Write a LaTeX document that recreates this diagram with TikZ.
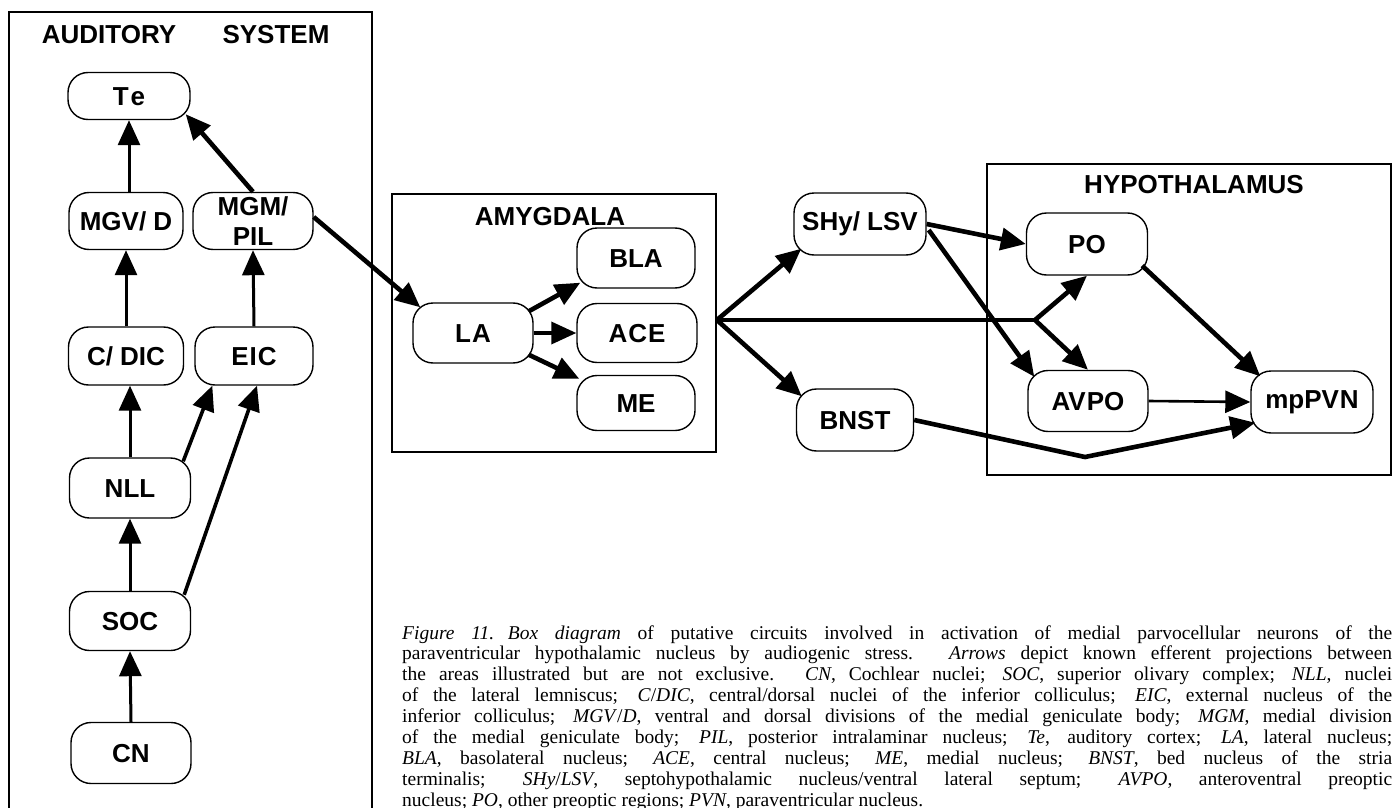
\documentclass[tikz,border=0pt]{standalone}
\usepackage{fontspec}
\setmainfont{Liberation Serif}
\setsansfont{Liberation Sans}
\usetikzlibrary{arrows.meta,calc}
\newcommand\lab{\fontsize{26}{26}\selectfont\sffamily\bfseries}
\newcommand\capsize{\fontsize{19.5}{20.9}\selectfont}
\begin{document}
\begin{tikzpicture}[x=1pt,y=-1pt,
  nbox/.style={draw, line width=1.4pt, rounded corners=20pt, inner sep=0pt, font=\lab},
  capbox/.style={nbox, text height=18.5pt, text depth=0pt},
  region/.style={draw, line width=1.8pt},
  title/.style={font=\lab, inner sep=0pt},
  arr/.style={-{Triangle[length=25pt,width=22pt]}, line width=3pt},
  heavy/.style={arr, line width=4.6pt},
  medium/.style={arr, line width=3.6pt},
  plain/.style={line width=3.6pt},
  capline/.style={anchor=base west, inner sep=0pt, font=\capsize}
]
\useasboundingbox (0,0) rectangle (1398,808);

% ---------- auditory system ----------
\draw[region] (9,830) |- (372,12) -- (372,830);
\node[title] (t1) at (109,35) {AUDITORY};
\node[title] (t2) at (276,35) {SYSTEM};

\node[capbox, minimum width=122pt, minimum height=47pt] (te)   at (129,96)  {T\kern2pt e};
\node[capbox, minimum width=114pt, minimum height=57pt] (mgv)  at (126,221) {MGV/ D};
\node[nbox, minimum width=120pt, minimum height=57pt, align=center] (mgm) at (253,221) {MGM/\\[4pt]PIL};
\node[capbox, minimum width=115pt, minimum height=58pt] (cdic) at (126,356) {C/ DIC};
\node[capbox, minimum width=118pt, minimum height=58pt] (eic)  at (254,356) {E\kern1pt I\kern1pt C};
\node[capbox, minimum width=121pt, minimum height=60pt] (nll)  at (130,488) {NLL};
\node[capbox, minimum width=121pt, minimum height=59pt] (soc)  at (130,621) {SOC};
\node[capbox, minimum width=120pt, minimum height=61pt] (cn)   at (131,753) {CN};

\draw[arr] (cn.north) -- (soc.south);
\draw[arr] (soc.north) -- (nll.south);
\draw[arr] (nll.north) -- (nll.north |- cdic.south);
\draw[arr] (cdic.north) -- (mgv.south);
\draw[arr] (te.south |- mgv.north) -- (te.south);
\draw[arr] (eic.north) -- (mgm.south);
\draw[medium] ([xshift=-8pt,yshift=-4pt]nll.north east) -- ([xshift=18pt]eic.south west);
\draw[medium] ([xshift=-7pt,yshift=-4pt]soc.north east) -- ([xshift=3pt]eic.south);
\draw[heavy] (mgm.north) -- ([xshift=-5pt,yshift=6pt]te.south east);

% ---------- amygdala ----------
\node[region, minimum width=324pt, minimum height=258pt, inner sep=0pt] (amy) at (554,323) {};
\node[title] (t3) at (550,217) {AMYGDALA};
\node[capbox, minimum width=120pt, minimum height=60pt] (la)  at (473,333) {L\kern1pt A};
\node[capbox, minimum width=118pt, minimum height=60pt] (bla) at (636,258) {BLA};
\node[capbox, minimum width=120pt, minimum height=59pt] (ace) at (637,333) {A\kern1pt C\kern1pt E};
\node[capbox, minimum width=118pt, minimum height=55pt] (me)  at (636,403) {ME};

\draw[heavy] ([yshift=4pt]mgm.east) -- ([xshift=8pt,yshift=-5pt]la.north west);
\draw[heavy] ([xshift=-5pt,yshift=-9pt]la.north east) -- ([xshift=4pt,yshift=6pt]bla.south west);
\draw[medium] (la.east) -- (ace.west);
\draw[heavy] ([xshift=-5pt,yshift=9pt]la.south east) -- ([xshift=3pt,yshift=-4pt]me.north west);

% ---------- relay nuclei ----------
\coordinate (br) at ([yshift=3pt]amy.east);
\node[nbox, minimum width=132pt, minimum height=62pt] (shy)  at (860,224) {SHy/ LSV};
\node[capbox, minimum width=117pt, minimum height=62pt] (bnst) at (855,420) {BNST};

% ---------- hypothalamus ----------
\node[region, minimum width=404pt, minimum height=311pt, inner sep=0pt] (hyp) at (1189,319.5) {};
\node[title] (t4) at (1194,185) {HYPOTHALAMUS};
\node[capbox, minimum width=121pt, minimum height=62pt] (po)    at (1087,244) {PO};
\node[capbox, minimum width=120pt, minimum height=61pt] (avpo)  at (1088,401) {AV\kern1pt PO};
\node[nbox, minimum width=122pt, minimum height=62pt] (mppvn) at (1312,402) {mpPV\kern1pt N};
\coordinate (jn) at (1035,320);
\coordinate (kink) at (1085,457);

\draw[heavy] (br) -- ([xshift=8pt,yshift=7pt]shy.south west);
\draw[heavy] (br) -- ([xshift=6pt,yshift=-8pt]bnst.north west);
\draw[plain] (br) -- (jn);
\draw[heavy] (jn) -- (po.south);
\draw[heavy] (jn) -- (avpo.north);
\draw[heavy] (shy.east) -- (po.west);
\draw[heavy] ([xshift=2pt,yshift=-6pt]shy.east) -- ([xshift=7pt,yshift=-7pt]avpo.north west);
\draw[heavy] ([xshift=-6pt,yshift=10pt]po.south east) -- ([xshift=10pt,yshift=-6pt]mppvn.north west);
\draw[arr, line width=2.6pt] (avpo.east) -- (mppvn.west);
\draw[heavy] (bnst.east) -- (kink) -- ([xshift=5pt,yshift=11pt]mppvn.south west);

% ---------- caption ----------
\node[capline] (c1) at (402,639.0) {\hbox to 990pt{\textit{Figure 11.}\hskip 0.7em\textit{Box diagram} of putative circuits involved in activation of medial parvocellular neurons of the}};
\node[capline] (c2) at (402,659.9) {\hbox to 990pt{paraventricular hypothalamic nucleus by audiogenic stress. \textit{Arrows} depict known efferent projections between}};
\node[capline] (c3) at (402,680.8) {\hbox to 990pt{the areas illustrated but are not exclusive. \textit{CN}, Cochlear nuclei; \textit{SOC}, superior olivary complex; \textit{NLL}, nuclei}};
\node[capline] (c4) at (402,701.7) {\hbox to 990pt{of the lateral lemniscus; \textit{C}/\textit{DIC}, central/dorsal nuclei of the inferior colliculus; \textit{EIC}, external nucleus of the}};
\node[capline] (c5) at (402,722.6) {\hbox to 990pt{inferior colliculus; \textit{MGV}/\textit{D}, ventral and dorsal divisions of the medial geniculate body; \textit{MGM}, medial division}};
\node[capline] (c6) at (402,743.5) {\hbox to 990pt{of the medial geniculate body; \textit{PIL}, posterior intralaminar nucleus; \textit{Te}, auditory cortex; \textit{LA}, lateral nucleus;}};
\node[capline] (c7) at (402,764.4) {\hbox to 990pt{\textit{BLA}, basolateral nucleus; \textit{ACE}, central nucleus; \textit{ME}, medial nucleus; \textit{BNST}, bed nucleus of the stria}};
\node[capline] (c8) at (402,785.3) {\hbox to 990pt{terminalis; \textit{SHy}/\textit{LSV}, septohypothalamic nucleus/ventral lateral septum; \textit{AVPO}, anteroventral preoptic}};
\node[capline] (c9) at (402,806.2) {nucleus; \textit{PO}, other preoptic regions; \textit{PVN}, paraventricular nucleus.};
\end{tikzpicture}
\end{document}
